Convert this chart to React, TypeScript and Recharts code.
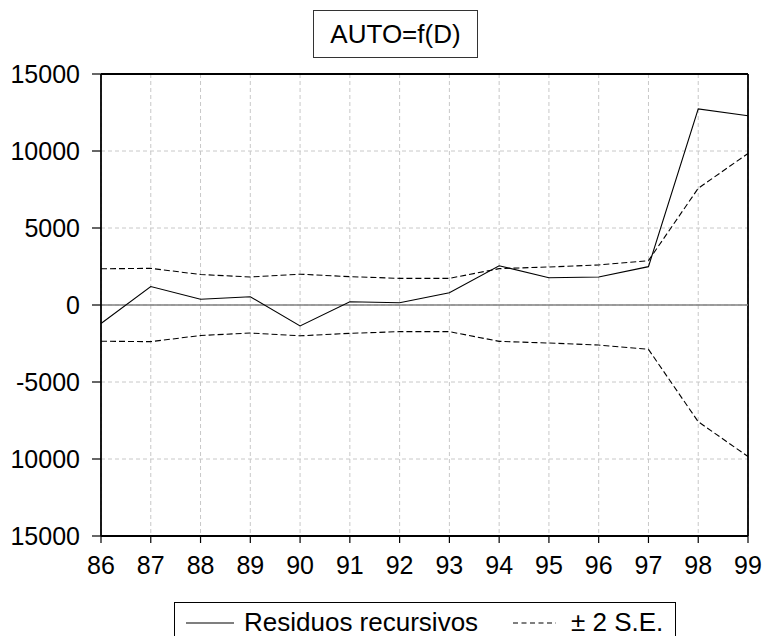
import React from 'react';
import {
  LineChart,
  Line,
  XAxis,
  YAxis,
  CartesianGrid,
  ReferenceLine,
} from 'recharts';

const years = [86, 87, 88, 89, 90, 91, 92, 93, 94, 95, 96, 97, 98, 99];
const residuals = [-1200, 1200, 370, 540, -1360, 210, 150, 800, 2550, 1770, 1820, 2490, 12730, 12290];
const upperSE = [2350, 2380, 1980, 1820, 2000, 1840, 1730, 1730, 2360, 2470, 2600, 2880, 7580, 9840];
const lowerSE = [-2350, -2380, -1980, -1820, -2000, -1840, -1730, -1730, -2360, -2470, -2600, -2880, -7580, -9840];

const yTicks = [-15000, -10000, -5000, 0, 5000, 10000, 15000];
const yTickLabels = ['15000', '10000', '-5000', '0', '5000', '10000', '15000'];

const title = 'AUTO=f(D)';
const legendNames = ['Residuos recursivos', '± 2 S.E.'];

const font = '"Liberation Sans", Arial, sans-serif';

const data = years.map((year, i) => ({
  year,
  resid: residuals[i],
  upper: upperSE[i],
  lower: lowerSE[i],
}));

export default function App() {
  return (
    <div
      style={{
        position: 'absolute',
        left: 0,
        top: 0,
        width: 762,
        height: 636,
        overflow: 'hidden',
        background: '#fff',
        fontFamily: font,
      }}
    >
      <LineChart
        width={762}
        height={636}
        data={data}
        margin={{ top: 74, right: 14, left: 0, bottom: 60 }}
      >
        <CartesianGrid stroke="#c8c8c8" strokeDasharray="4 3" />
        <XAxis
          dataKey="year"
          type="number"
          domain={[86, 99]}
          ticks={years}
          interval={0}
          height={40}
          tickSize={7}
          tickMargin={13}
          axisLine={{ stroke: '#000', strokeWidth: 1.8 }}
          tickLine={{ stroke: '#000', strokeWidth: 1.2 }}
          tick={{ fill: '#000', fontSize: 25, fontFamily: font }}
        />
        <YAxis
          type="number"
          domain={[-15000, 15000]}
          ticks={yTicks}
          interval={0}
          width={101}
          tickSize={9}
          tickMargin={12}
          tickFormatter={(v: number) => yTickLabels[yTicks.indexOf(v)] ?? String(v)}
          axisLine={{ stroke: '#000', strokeWidth: 1.8 }}
          tickLine={{ stroke: '#000', strokeWidth: 1.2 }}
          tick={{ fill: '#000', fontSize: 25, fontFamily: font }}
        />
        <ReferenceLine y={15000} stroke="#000" strokeWidth={1.8} />
        <ReferenceLine x={99} stroke="#000" strokeWidth={1.8} />
        <ReferenceLine y={0} stroke="#808080" strokeWidth={1.5} />
        <Line
          dataKey="upper"
          type="linear"
          stroke="#000"
          strokeWidth={1.1}
          strokeDasharray="6 3"
          dot={false}
          isAnimationActive={false}
        />
        <Line
          dataKey="lower"
          type="linear"
          stroke="#000"
          strokeWidth={1.1}
          strokeDasharray="6 3"
          dot={false}
          isAnimationActive={false}
        />
        <Line
          dataKey="resid"
          type="linear"
          stroke="#000"
          strokeWidth={1.1}
          dot={false}
          isAnimationActive={false}
        />
      </LineChart>

      <div
        style={{
          position: 'absolute',
          left: 313,
          top: 10,
          width: 163,
          height: 46,
          border: '1px solid #333',
          display: 'flex',
          alignItems: 'center',
          justifyContent: 'center',
          fontSize: 26,
          color: '#000',
        }}
      >
        {title}
      </div>

      <div
        style={{
          position: 'absolute',
          left: 174,
          top: 602,
          width: 500,
          height: 50,
          border: '1px solid #000',
          fontSize: 26,
          color: '#000',
        }}
      >
        <svg
          width={500}
          height={50}
          style={{ position: 'absolute', left: 0, top: 0 }}
        >
          <line x1={11} y1={20} x2={59} y2={20} stroke="#000" strokeWidth={1.1} />
          <line
            x1={338}
            y1={20}
            x2={381}
            y2={20}
            stroke="#000"
            strokeWidth={1.1}
            strokeDasharray="5 3.5"
          />
        </svg>
        <span style={{ position: 'absolute', left: 69, top: 4, whiteSpace: 'nowrap' }}>
          {legendNames[0]}
        </span>
        <span style={{ position: 'absolute', left: 396, top: 4, whiteSpace: 'nowrap' }}>
          {legendNames[1]}
        </span>
      </div>
    </div>
  );
}
